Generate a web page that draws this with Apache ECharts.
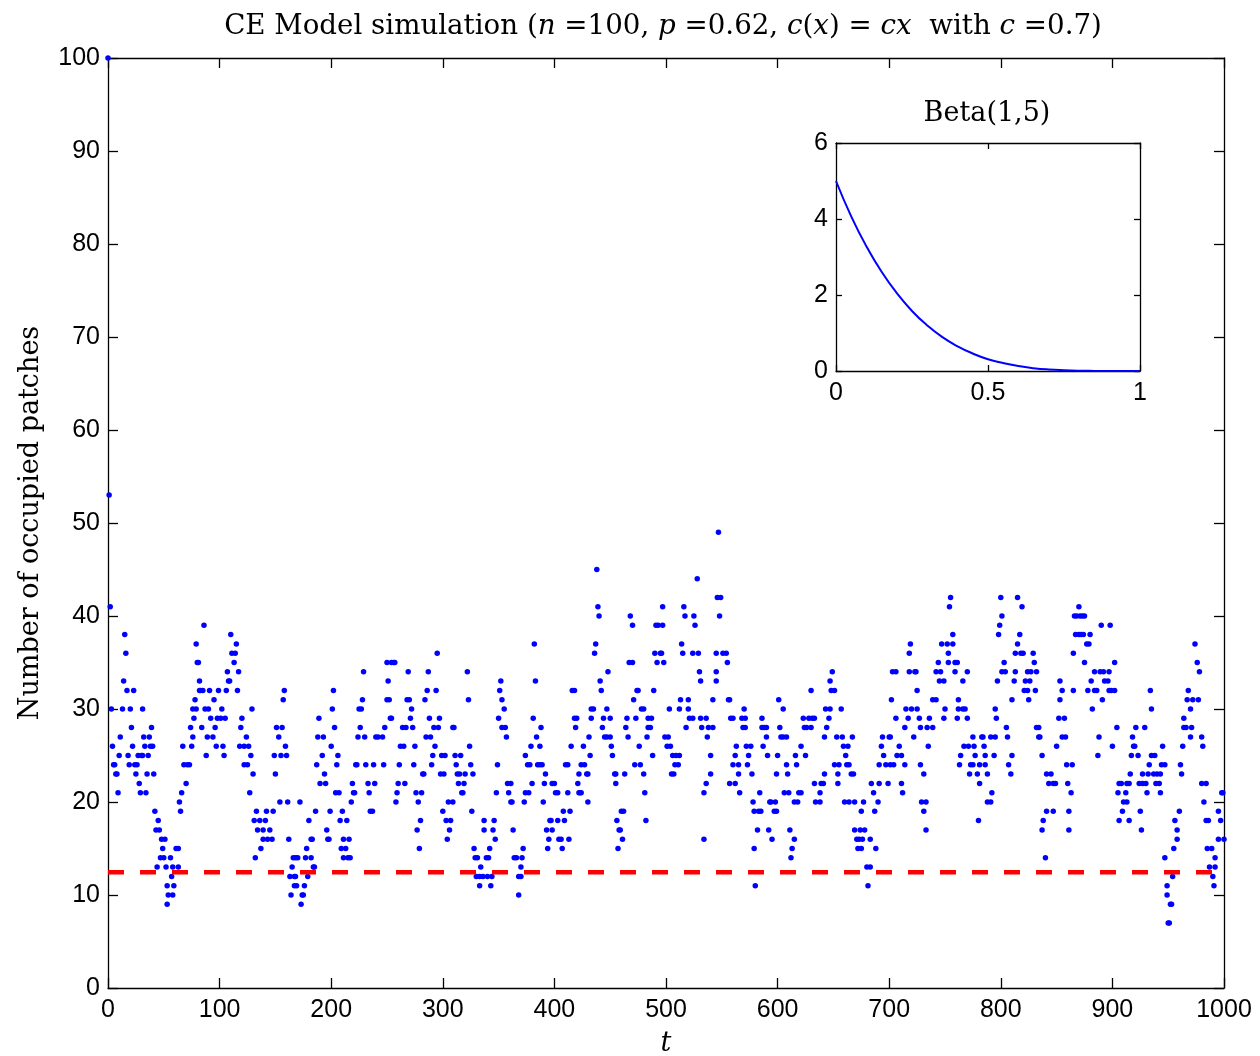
<!DOCTYPE html>
<html>
<head>
<meta charset="utf-8">
<script src="https://cdn.jsdelivr.net/npm/echarts@6/dist/echarts.min.js"></script>
<style>
html,body{margin:0;padding:0;background:#fff;}
#chart{width:1260px;height:1056px;}
</style>
</head>
<body>
<div id="chart"></div>
<script>
// ---- data ----
// [t, number of occupied patches]
const observations = [
[0,100],[1,53],[2,41],[3,30],[4,26],[5,24],[6,24],[7,23],[8,23],[9,21],[10,25],[11,27],[13,30],[14,33],[15,38],[16,36],[17,32],[18,25],[19,24],[20,30],[21,28],[22,26],[23,32],[24,24],[25,23],[26,24],[27,25],[28,22],[29,21],[30,25],[31,25],[31,30],[32,27],[33,26],[34,21],[35,23],[36,25],[37,27],[38,26],[39,28],[40,26],[41,23],[42,19],[43,17],[44,13],[45,18],[46,17],[47,14],[48,16],[49,15],[50,14],[51,16],[52,13],[53,11],[53,9],[54,10],[56,14],[57,12],[58,13],[58,10],[59,11],[61,15],[63,15],[63,13],[64,20],[65,19],[66,21],[67,26],[68,24],[70,22],[71,24],[73,24],[74,28],[75,26],[76,27],[76,30],[77,29],[78,31],[79,30],[79,37],[80,35],[81,35],[82,33],[82,32],
[83,32],[84,28],[85,32],[86,39],[87,30],[88,25],[89,27],[90,30],[91,32],[92,29],[94,27],[95,31],[96,28],[97,26],[98,29],[99,32],[101,29],[102,30],[103,26],[104,25],[105,29],[106,32],[107,34],[108,33],[109,33],[110,38],[111,36],[113,35],[114,36],[115,37],[116,32],[117,34],[118,26],[119,28],[120,29],[122,26],[122,24],[124,27],[125,24],[126,26],[127,21],[128,25],[129,30],[130,23],[131,18],[132,14],[133,19],[134,17],[136,18],[137,15],[139,17],[139,16],[141,18],[142,19],[143,16],[145,17],[147,16],[148,19],[149,25],[150,23],[151,28],[153,27],[154,20],[155,25],[156,28],[157,31],[158,32],[159,26],[160,25],[161,20],[162,16],[163,12],[164,10],[165,13],[166,14],[167,12],[167,11],
[168,14],[168,12],[169,11],[170,14],[172,20],[173,9],[174,10],[175,10],[176,11],[177,14],[178,15],[179,12],[180,18],[182,16],[182,14],[183,16],[184,13],[185,13],[186,19],[187,24],[188,27],[189,29],[190,22],[192,25],[193,27],[194,23],[195,22],[196,17],[197,16],[198,16],[199,19],[200,26],[201,30],[202,32],[203,28],[204,21],[205,24],[206,25],[207,21],[208,18],[209,15],[210,19],[211,16],[211,14],[213,15],[214,18],[215,14],[216,16],[217,14],[218,20],[219,22],[220,21],[221,21],[222,24],[223,24],[224,27],[225,30],[226,28],[227,30],[228,31],[229,34],[230,27],[231,24],[233,22],[234,21],[235,19],[237,19],[238,24],[239,22],[240,27],[242,27],[246,27],[247,24],[248,28],[250,31],[250,35],[251,33],[252,31],[253,29],
[254,35],[254,29],[256,35],[257,35],[258,20],[259,21],[260,22],[261,24],[262,26],[264,28],[265,26],[266,22],[267,28],[268,31],[269,34],[270,31],[271,29],[272,30],[273,28],[274,24],[275,26],[276,21],[277,17],[278,20],[279,15],[280,18],[281,21],[282,23],[283,23],[284,31],[285,27],[286,32],[287,34],[288,29],[289,27],[290,24],[291,25],[292,28],[293,26],[294,32],[295,36],[296,28],[297,29],[298,23],[299,25],[300,19],[301,23],[302,25],[303,18],[304,16],[305,20],[306,17],[307,18],[309,20],[309,28],[310,28],[311,25],[312,24],[313,23],[314,22],[315,23],[316,25],[317,21],[318,21],[319,22],[320,23],[322,34],[323,31],[324,26],[325,24],[326,19],[327,23],[328,15],[329,14],[330,12],[331,14],[333,12],[333,11],[334,13],[336,12],[337,18],[337,17],
[339,14],[340,12],[341,14],[342,15],[343,11],[344,12],[345,17],[346,18],[347,16],[348,21],[349,24],[350,29],[351,32],[352,33],[353,31],[353,28],[355,30],[356,28],[357,27],[358,22],[359,21],[361,22],[361,20],[362,20],[363,17],[364,14],[366,14],[368,12],[368,10],[370,12],[370,13],[371,14],[372,15],[373,20],[374,25],[374,21],[376,24],[377,21],[378,24],[379,26],[380,22],[381,29],[382,37],[383,33],[384,27],[385,24],[387,26],[387,24],[388,28],[389,24],[390,20],[391,22],[392,23],[393,17],[394,15],[395,16],[396,18],[397,18],[398,22],[398,17],[400,22],[401,21],[403,21],[403,18],[404,16],[406,16],[407,15],[408,19],[409,18],[410,24],[412,24],[412,21],[413,16],[414,19],[415,26],[416,32],[418,32],[418,29],[419,28],[420,29],[421,22],[422,23],[422,21],
[423,21],[424,21],[424,24],[426,26],[427,24],[429,23],[430,23],[430,20],[431,27],[432,25],[433,30],[433,29],[435,30],[436,36],[437,37],[438,45],[439,41],[440,40],[441,33],[442,32],[443,28],[444,29],[445,27],[447,27],[447,30],[448,34],[450,29],[450,27],[451,26],[452,25],[454,23],[455,23],[455,22],[456,18],[457,15],[458,17],[459,17],[460,19],[461,16],[462,19],[463,23],[464,28],[465,29],[466,27],[467,35],[468,40],[470,39],[470,35],[471,31],[472,24],[473,29],[474,32],[475,32],[476,26],[477,24],[478,30],[480,30],[480,23],[481,21],[482,18],[483,27],[484,29],[484,28],[486,28],[487,29],[488,25],[489,32],[490,36],[491,39],[492,35],[493,39],[495,36],[496,36],[497,39],[497,41],[498,35],[499,27],[501,26],[502,27],[503,30],[504,26],[505,23],[506,25],[507,23],[508,24],
[509,25],[511,24],[512,25],[512,30],[513,31],[514,37],[515,36],[516,41],[517,40],[518,28],[520,31],[520,30],[521,29],[524,29],[524,36],[525,40],[526,39],[528,44],[529,36],[530,34],[531,33],[531,29],[532,28],[534,21],[534,16],[536,29],[536,22],[537,27],[538,28],[540,25],[540,23],[542,28],[542,31],[545,36],[545,34],[545,33],[546,42],[547,49],[548,40],[549,42],[551,36],[554,36],[555,35],[556,31],[557,31],[557,22],[558,29],[560,29],[560,24],[562,25],[562,22],[563,26],[565,24],[565,23],[566,21],[568,29],[569,28],[570,30],[571,29],[571,28],[572,26],[573,24],[574,25],[576,26],[577,23],[578,20],[579,19],[579,15],[580,11],[582,17],[583,19],[584,21],[585,19],[586,29],[586,28],[587,26],[588,28],[590,28],[590,27],[591,25],[592,17],[593,20],
[594,20],[595,16],[597,19],[598,20],[599,19],[599,23],[600,25],[601,31],[602,28],[603,27],[605,27],[605,30],[606,21],[608,27],[608,24],[609,23],[610,21],[611,17],[612,14],[613,15],[615,20],[615,16],[616,25],[617,24],[618,20],[619,21],[621,21],[621,26],[623,29],[624,28],[625,25],[626,28],[628,29],[630,28],[630,32],[631,29],[633,29],[633,22],[634,20],[638,21],[638,20],[639,22],[641,22],[642,27],[642,23],[643,30],[644,28],[646,29],[647,30],[647,33],[648,32],[649,34],[651,32],[651,24],[653,27],[654,23],[654,22],[655,24],[657,30],[658,27],[659,26],[660,20],[661,25],[662,24],[663,26],[664,24],[664,20],[666,23],[667,27],[668,23],[669,20],[669,17],[671,16],[672,15],[673,16],[674,17],[675,19],[675,15],[676,16],[677,20],[678,17],
[680,13],[681,11],[683,13],[683,16],[684,22],[686,21],[687,19],[688,15],[690,20],[691,24],[691,22],[693,26],[694,27],[695,25],[697,24],[699,22],[700,27],[701,27],[701,24],[702,31],[703,34],[704,24],[706,34],[706,29],[707,25],[709,26],[711,25],[711,22],[712,21],[714,28],[714,24],[715,30],[717,29],[718,36],[718,34],[719,37],[720,30],[722,27],[723,34],[724,34],[725,32],[725,30],[727,29],[728,28],[728,24],[729,20],[731,23],[731,19],[733,20],[733,17],[734,28],[735,26],[736,29],[739,28],[739,31],[742,31],[742,34],[744,35],[745,33],[746,34],[747,37],[749,33],[749,29],[750,30],[752,37],[753,35],[753,36],[754,41],[755,42],[757,38],[757,37],[759,35],[759,34],[761,35],[761,29],[762,31],[762,30],[763,24],
[764,25],[766,33],[766,30],[767,26],[768,30],[770,34],[770,29],[771,26],[772,23],[773,24],[775,24],[775,27],[776,26],[777,25],[779,23],[780,18],[781,24],[781,22],[783,27],[784,27],[785,26],[786,25],[786,24],[788,23],[788,20],[791,27],[791,20],[792,21],[794,25],[795,27],[795,30],[796,29],[797,33],[798,38],[799,39],[800,42],[801,40],[801,34],[803,35],[804,34],[805,28],[806,27],[807,24],[809,23],[810,31],[810,25],[812,33],[813,36],[813,34],[815,42],[815,37],[817,38],[818,36],[819,41],[820,36],[821,32],[822,33],[824,34],[824,32],[825,31],[826,33],[827,34],[829,36],[830,35],[831,32],[832,34],[832,28],[834,28],[834,27],[835,27],[837,25],[837,17],[838,18],[840,14],[841,23],[841,19],[843,22],[845,23],[847,22],[847,19],
[849,22],[850,26],[852,29],[853,33],[853,31],[855,32],[855,27],[857,29],[858,27],[859,24],[860,22],[861,19],[861,17],[863,21],[864,24],[865,36],[865,32],[866,40],[867,38],[868,40],[870,41],[870,38],[871,40],[872,38],[873,40],[874,38],[875,40],[875,35],[877,37],[878,32],[879,37],[880,38],[881,33],[882,30],[884,34],[884,32],[886,32],[887,25],[888,27],[889,34],[890,39],[891,31],[892,34],[893,33],[896,33],[897,34],[897,32],[898,39],[899,32],[900,26],[902,35],[902,32],[904,28],[905,21],[906,22],[906,18],[908,22],[909,19],[910,20],[912,21],[913,22],[913,20],[915,22],[915,18],[916,23],[917,25],[918,27],[919,26],[920,26],[921,28],[923,25],[924,22],[925,19],[926,17],[927,23],[927,22],[929,28],[930,22],[931,21],[932,23],[933,24],[934,32],
[935,30],[935,25],[937,23],[938,25],[939,22],[940,23],[942,22],[943,23],[943,21],[944,24],[945,26],[947,24],[947,14],[949,11],[949,10],[950,7],[951,7],[952,9],[953,9],[954,12],[955,15],[956,18],[958,17],[958,16],[960,19],[961,24],[962,23],[963,26],[964,29],[964,28],[966,28],[967,31],[968,32],[970,30],[970,27],[971,28],[972,31],[974,37],[976,35],[977,31],[978,34],[980,27],[980,22],[981,26],[982,20],[984,22],[984,18],[985,15],[986,18],[987,13],[989,15],[990,12],[991,11],[992,14],[992,13],[995,19],[995,16],[997,18],[998,21],[999,21],[1000,16]
];
const threshold = 12.45;           // red dashed level
const tRange = [0, 1000];
const xTicks = [0,100,200,300,400,500,600,700,800,900,1000];
const yTicks = [0,10,20,30,40,50,60,70,80,90,100];
// inset: Beta(1,5) density
const betaX = [0,0.05,0.1,0.15,0.2,0.25,0.3,0.35,0.4,0.45,0.5,0.55,0.6,0.65,0.7,0.75,0.8,0.85,0.9,0.95,1];
const betaDensity = [5.0,4.07,3.28,2.61,2.05,1.58,1.20,0.89,0.65,0.46,0.31,0.21,0.13,0.075,0.04,0.02,0.008,0.003,0.0005,0,0];
const insetXTicks = [0,0.5,1];
const insetYTicks = [0,2,4,6];

// ---- chart ----
const chart = echarts.init(document.getElementById('chart'), null, {renderer:'canvas'});
const sans = 'Liberation Sans, Arial, sans-serif';
const serif = 'DejaVu Serif, serif';
const black = '#000';
const plain = (v)=> String(v);

function axisCommon(extra){
  return Object.assign({
    type:'value',
    axisLine:{show:true, onZero:false, lineStyle:{color:black, width:1.3}},
    axisTick:{show:true, inside:true, length:10, lineStyle:{color:black, width:1.3}},
    splitLine:{show:false},
    axisLabel:{show:true, color:black, fontFamily:sans, fontSize:25, formatter:plain},
  }, extra);
}

const step = (a)=> a[1]-a[0];
const lab = (m)=>({show:true, color:black, fontFamily:sans, fontSize:25, margin:m, formatter:plain});
const smallTick = {show:true, inside:true, length:6, lineStyle:{color:black, width:1.3}};

const option = {
  animation:false,
  backgroundColor:'#fff',
  title:[
    {
      text:'{r|CE Model simulation (}{i|n}{r| =100, }{i|p}{r| =0.62, }{i|c}{r|(}{i|x}{r|) = }{i|cx}{r|  with }{i|c}{r| =0.7)}',
      left:658, top:8, textAlign:'center',
      textStyle:{fontWeight:'normal', rich:{
        r:{fontFamily:serif, fontSize:27.7, fontWeight:'normal', color:black},
        i:{fontFamily:serif, fontSize:27.7, fontStyle:'italic', fontWeight:'normal', color:black}
      }}
    },
    {
      text:'Beta(1,5)', left:982, top:95, textAlign:'center',
      textStyle:{fontFamily:serif, fontSize:27, fontWeight:'normal', color:black}
    }
  ],
  grid:[
    {left:108, top:58, width:1116, height:930, show:false, containLabel:false, outerBoundsMode:'none'},
    {left:836, top:143, width:304, height:228, show:true, backgroundColor:'#fff', borderWidth:0, containLabel:false, outerBoundsMode:'none'}
  ],
  xAxis:[
    axisCommon({gridIndex:0, position:'bottom', min:tRange[0], max:tRange[1], interval:step(xTicks),
      name:'t', nameLocation:'middle', nameGap:42,
      nameTextStyle:{fontFamily:serif, fontStyle:'italic', fontSize:27, color:black},
      axisLabel:lab(10)}),
    axisCommon({gridIndex:0, position:'top', min:tRange[0], max:tRange[1], interval:step(xTicks), axisLabel:{show:false}}),
    axisCommon({gridIndex:1, position:'bottom', min:insetXTicks[0], max:insetXTicks[insetXTicks.length-1], interval:step(insetXTicks),
      axisTick:smallTick, axisLabel:lab(10)}),
    axisCommon({gridIndex:1, position:'top', min:insetXTicks[0], max:insetXTicks[insetXTicks.length-1], interval:step(insetXTicks),
      axisTick:smallTick, axisLabel:{show:false}})
  ],
  yAxis:[
    axisCommon({gridIndex:0, position:'left', min:yTicks[0], max:yTicks[yTicks.length-1], interval:step(yTicks),
      name:'Number of occupied patches', nameLocation:'middle', nameGap:64, nameRotate:90,
      nameTextStyle:{fontFamily:serif, fontSize:27, color:black},
      axisLabel:lab(8)}),
    axisCommon({gridIndex:0, position:'right', min:yTicks[0], max:yTicks[yTicks.length-1], interval:step(yTicks), axisLabel:{show:false}}),
    axisCommon({gridIndex:1, position:'left', min:insetYTicks[0], max:insetYTicks[insetYTicks.length-1], interval:step(insetYTicks),
      axisTick:smallTick, axisLabel:lab(8)}),
    axisCommon({gridIndex:1, position:'right', min:insetYTicks[0], max:insetYTicks[insetYTicks.length-1], interval:step(insetYTicks),
      axisTick:smallTick, axisLabel:{show:false}})
  ],
  series:[
    {
      type:'scatter', xAxisIndex:0, yAxisIndex:0,
      data:observations, symbol:'circle', symbolSize:5.5,
      itemStyle:{color:'#0000ff', opacity:1}, clip:false, z:3, silent:true
    },
    {
      type:'line', xAxisIndex:0, yAxisIndex:0,
      data:tRange.map(t=>[t, threshold]), symbol:'none',
      lineStyle:{color:'#ff0000', width:4.5, type:[16,16]}, z:4, silent:true
    },
    {
      type:'line', xAxisIndex:2, yAxisIndex:2,
      data:betaX.map((x,i)=>[x, betaDensity[i]]), symbol:'none', smooth:true,
      lineStyle:{color:'#0000ff', width:2}, z:5, silent:true
    }
  ]
};
chart.setOption(option);
</script>
</body>
</html>
